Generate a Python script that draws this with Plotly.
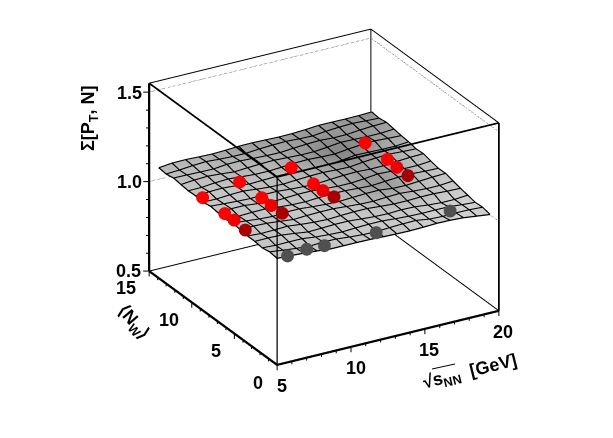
import plotly.graph_objects as go

# ---------------------------------------------------------------------------
# Data
# ---------------------------------------------------------------------------
X_MIN, X_MAX = 5, 20
N_MIN, N_MAX = 0, 15
Z_MIN, Z_MAX = 0.5, 1.55

surf_x = [5.0, 5.9, 6.8, 7.7, 8.6, 9.5, 10.4, 11.3, 12.2, 13.1, 14.0, 14.9, 15.8, 16.7, 17.6, 18.5, 19.4]
surf_n = [0.0, 0.866, 1.733, 2.6, 3.465, 4.33, 5.2, 6.06, 6.93, 7.8, 8.66, 9.53, 10.4, 11.26, 12.13, 13.0, 13.86]
surf_z = [
    [1.093, 1.090, 1.086, 1.080, 1.073, 1.073, 1.073, 1.072, 1.069, 1.067, 1.066, 1.068, 1.071, 1.070, 1.066, 1.057, 1.048],
    [1.099, 1.090, 1.082, 1.076, 1.081, 1.080, 1.073, 1.068, 1.066, 1.071, 1.074, 1.075, 1.064, 1.061, 1.063, 1.062, 1.058],
    [1.091, 1.087, 1.088, 1.088, 1.079, 1.074, 1.071, 1.075, 1.078, 1.078, 1.072, 1.068, 1.066, 1.067, 1.066, 1.060, 1.055],
    [1.097, 1.098, 1.096, 1.087, 1.077, 1.080, 1.083, 1.083, 1.077, 1.072, 1.070, 1.074, 1.072, 1.064, 1.059, 1.059, 1.065],
    [1.097, 1.092, 1.094, 1.097, 1.089, 1.083, 1.080, 1.084, 1.087, 1.087, 1.081, 1.076, 1.076, 1.079, 1.079, 1.075, 1.073],
    [1.103, 1.104, 1.101, 1.094, 1.086, 1.090, 1.092, 1.092, 1.086, 1.081, 1.079, 1.084, 1.087, 1.081, 1.077, 1.077, 1.084],
    [1.109, 1.102, 1.095, 1.091, 1.097, 1.097, 1.091, 1.086, 1.084, 1.088, 1.092, 1.093, 1.084, 1.083, 1.088, 1.093, 1.096],
    [1.101, 1.099, 1.102, 1.103, 1.095, 1.090, 1.088, 1.093, 1.096, 1.096, 1.091, 1.088, 1.094, 1.099, 1.100, 1.096, 1.094],
    [1.106, 1.110, 1.110, 1.102, 1.092, 1.096, 1.100, 1.100, 1.095, 1.090, 1.090, 1.096, 1.105, 1.101, 1.098, 1.098, 1.104],
    [1.112, 1.107, 1.103, 1.100, 1.104, 1.104, 1.098, 1.094, 1.093, 1.098, 1.103, 1.105, 1.101, 1.102, 1.108, 1.113, 1.115],
    [1.104, 1.104, 1.109, 1.112, 1.104, 1.098, 1.096, 1.101, 1.105, 1.107, 1.103, 1.101, 1.110, 1.116, 1.119, 1.115, 1.112],
    [1.109, 1.114, 1.116, 1.111, 1.102, 1.105, 1.108, 1.109, 1.105, 1.102, 1.102, 1.109, 1.119, 1.117, 1.115, 1.115, 1.121],
    [1.107, 1.108, 1.115, 1.119, 1.113, 1.108, 1.107, 1.112, 1.117, 1.119, 1.115, 1.113, 1.122, 1.129, 1.132, 1.128, 1.125],
    [1.112, 1.119, 1.122, 1.117, 1.110, 1.115, 1.119, 1.121, 1.117, 1.114, 1.114, 1.121, 1.130, 1.128, 1.126, 1.126, 1.132],
    [1.118, 1.117, 1.115, 1.114, 1.122, 1.123, 1.119, 1.116, 1.115, 1.121, 1.126, 1.129, 1.124, 1.125, 1.132, 1.137, 1.139],
    [1.110, 1.114, 1.121, 1.125, 1.120, 1.117, 1.117, 1.123, 1.127, 1.129, 1.125, 1.123, 1.131, 1.136, 1.139, 1.135, 1.132],
    [1.115, 1.123, 1.124, 1.121, 1.119, 1.122, 1.126, 1.127, 1.125, 1.123, 1.124, 1.128, 1.134, 1.134, 1.133, 1.134, 1.137],
]

# grey level of the surface on the same grid
surf_grey = [
    [196, 198, 200, 200, 198, 200, 202, 200, 198, 200, 202, 204, 206, 208, 208, 206, 204],
    [198, 198, 196, 198, 200, 198, 200, 202, 200, 198, 200, 202, 204, 206, 208, 208, 206],
    [196, 198, 200, 198, 198, 200, 198, 200, 202, 200, 200, 198, 204, 206, 206, 208, 208],
    [198, 196, 198, 200, 196, 198, 200, 198, 200, 198, 196, 198, 198, 202, 206, 206, 206],
    [198, 196, 198, 196, 200, 198, 196, 198, 198, 194, 190, 186, 186, 190, 196, 200, 202],
    [196, 198, 196, 198, 198, 198, 198, 196, 194, 188, 182, 176, 176, 184, 192, 198, 200],
    [198, 196, 198, 196, 196, 198, 196, 194, 190, 182, 172, 162, 160, 172, 186, 194, 198],
    [196, 198, 196, 198, 198, 196, 194, 192, 188, 180, 166, 154, 154, 166, 180, 190, 196],
    [198, 196, 198, 196, 196, 194, 192, 190, 186, 178, 168, 158, 156, 166, 178, 188, 194],
    [196, 198, 196, 198, 194, 192, 190, 188, 184, 176, 168, 160, 160, 166, 176, 186, 192],
    [198, 196, 198, 196, 192, 190, 190, 188, 182, 174, 164, 156, 154, 162, 172, 182, 188],
    [196, 198, 196, 194, 192, 190, 190, 186, 180, 170, 158, 146, 144, 154, 166, 176, 184],
    [196, 194, 192, 190, 188, 186, 186, 180, 172, 160, 146, 134, 134, 144, 154, 164, 172],
    [194, 192, 190, 188, 184, 184, 182, 176, 170, 160, 148, 138, 138, 146, 152, 160, 166],
    [192, 190, 188, 186, 180, 178, 176, 172, 168, 160, 152, 144, 146, 150, 154, 156, 160],
    [190, 188, 186, 184, 176, 172, 168, 166, 166, 160, 156, 152, 152, 152, 152, 152, 154],
    [186, 184, 182, 180, 170, 166, 162, 160, 162, 160, 158, 156, 154, 152, 150, 148, 148],
]

energy = [6.3, 8.8, 12.3, 17.3]
energy_low = [6.3, 7.6, 8.8, 12.3, 17.3]

grey_n = [1.05, 1.05, 1.05, 1.05, 1.05]
grey_z = [1.047, 1.058, 1.054, 1.056, 1.076]
dark_n = [6.0, 6.0, 6.0, 6.0]
dark_z = [1.019, 1.062, 1.083, 1.101]
mid_n = [7.3, 7.3, 7.3, 7.3]
mid_z = [1.029, 1.060, 1.073, 1.102]
red_n = [8.4, 8.4, 8.4, 8.4]
red_z = [1.027, 1.065, 1.072, 1.108]
top_n = [11.0, 11.0, 11.0, 11.0]
top_z = [1.025, 1.062, 1.072, 1.109]

x_major = [5, 10, 15, 20]
x_minor = [6, 7, 8, 9, 11, 12, 13, 14, 16, 17, 18, 19]
n_major = [0, 5, 10, 15]
n_minor = [1, 2, 3, 4, 6, 7, 8, 9, 11, 12, 13, 14]
z_major = [0.5, 1.0, 1.5]
z_minor = [0.6, 0.7, 0.8, 0.9, 1.1, 1.2, 1.3, 1.4]

# ---------------------------------------------------------------------------
# Scene
# ---------------------------------------------------------------------------
W, H = 613, 438
PAGE_MARGIN = 8  # the browser's body margin pushes everything by this much
FONT = "Liberation Sans"
EYE = 2.0
ZOOM = 1.384  # orthographic size follows the aspect ratio, not the eye distance
MESH_LIFT = 0.002  # keeps the mesh lines just above the surface
eye = dict(x=-0.453 * EYE, y=-0.785 * EYE, z=0.423 * EYE)

hidden = dict(visible=False, showgrid=False, zeroline=False, showticklabels=False)
scene = dict(
    domain=dict(x=[27 / W, 605 / W], y=[1 - 374 / H, 1 - 4 / H]),
    xaxis=dict(range=[4, 21], **hidden),
    yaxis=dict(range=[-1, 16], **hidden),
    zaxis=dict(range=[0.45, 1.6], **hidden),
    aspectmode="manual",
    aspectratio=dict(x=ZOOM * 17 / 15, y=ZOOM * 17 / 15, z=ZOOM * 0.81 * 1.15 / 1.05),
    camera=dict(eye=eye, up=dict(x=0, y=0, z=1), center=dict(x=0, y=0, z=0), projection=dict(type="orthographic")),
    bgcolor="rgba(0,0,0,0)",
    dragmode=False,
)

fig = go.Figure()

fig.add_trace(go.Surface(
    x=surf_x, y=surf_n, z=surf_z,
    surfacecolor=surf_grey,
    cmin=0, cmax=255,
    colorscale=[[0, "#000000"], [1, "#ffffff"]],
    showscale=False,
    lighting=dict(ambient=1, diffuse=0, specular=0, roughness=1, fresnel=0),
    hoverinfo="skip",
))


def line(xs, ys, zs, width=1, color="black", dash="solid", target="scene"):
    fig.add_trace(go.Scatter3d(
        x=xs, y=ys, z=zs, mode="lines", scene=target,
        line=dict(color=color, width=width, dash=dash),
        hoverinfo="skip", showlegend=False,
    ))


# mesh lines on the surface (contour lines stay one pixel thin in webgl)
for j, n in enumerate(surf_n):
    line(surf_x, [n] * len(surf_x), [v + MESH_LIFT for v in surf_z[j]], 2.5)
for i, x in enumerate(surf_x):
    line([x] * len(surf_n), surf_n, [row[i] + MESH_LIFT for row in surf_z], 2.5)

# box edges
line([X_MIN, X_MIN], [N_MAX, N_MAX], [Z_MIN, Z_MAX], 4.5)
line([X_MIN, X_MIN], [N_MIN, N_MIN], [Z_MIN, Z_MAX], 2.5)
line([X_MAX, X_MAX], [N_MIN, N_MIN], [Z_MIN, Z_MAX], 3.5)
line([X_MAX, X_MAX], [N_MAX, N_MAX], [Z_MIN, Z_MAX], 2)
line([X_MIN, X_MIN], [N_MIN, N_MAX], [Z_MAX, Z_MAX], 3.5)
line([X_MIN, X_MAX], [N_MIN, N_MIN], [Z_MAX, Z_MAX], 3.5)
line([X_MIN, X_MAX], [N_MAX, N_MAX], [Z_MAX, Z_MAX], 2)
line([X_MAX, X_MAX], [N_MIN, N_MAX], [Z_MAX, Z_MAX], 2)
line([X_MIN, X_MIN], [N_MIN, N_MAX], [Z_MIN, Z_MIN], 4.5)
line([X_MIN, X_MAX], [N_MIN, N_MIN], [Z_MIN, Z_MIN], 4.5)
line([X_MIN, X_MAX], [N_MAX, N_MAX], [Z_MIN, Z_MIN], 2)
line([X_MAX, X_MAX], [N_MIN, N_MAX], [Z_MIN, Z_MIN], 2)

# dotted grid on the back walls
for zg in [1.0, 1.5]:
    line([X_MIN, X_MAX], [N_MAX, N_MAX], [zg, zg], 1.5, "#333333", "dot")
    line([X_MAX, X_MAX], [N_MIN, N_MAX], [zg, zg], 1.5, "#333333", "dot")

# ticks
for v in x_major:
    line([v, v], [N_MIN, N_MIN], [Z_MIN, Z_MIN - 0.03], 2)
for v in x_minor:
    line([v, v], [N_MIN, N_MIN], [Z_MIN, Z_MIN - 0.016], 2)
for v in n_major:
    line([X_MIN, X_MIN], [v, v], [Z_MIN, Z_MIN - 0.03], 2)
for v in n_minor:
    line([X_MIN, X_MIN], [v, v], [Z_MIN, Z_MIN - 0.016], 2)
for v in z_major:
    line([X_MIN, X_MIN - 0.3], [N_MAX, N_MAX + 0.17], [v, v], 2)
for v in z_minor:
    line([X_MIN, X_MIN - 0.16], [N_MAX, N_MAX + 0.09], [v, v], 2)


# points go in a second scene on top, the reference paints them over the surface
def points(xs, ns, zs, color):
    fig.add_trace(go.Scatter3d(
        x=xs, y=ns, z=zs, mode="markers", scene="scene2",
        marker=dict(size=7.5, color=color, line=dict(width=0)),
        hoverinfo="skip", showlegend=False,
    ))


points(energy_low, grey_n, grey_z, "#505050")
points(energy, dark_n, dark_z, "#a80000")
points(energy, mid_n, mid_z, "#ee0000")
points(energy, red_n, red_z, "#ff0000")
points(energy, top_n, top_z, "#ff0000")

# ---------------------------------------------------------------------------
# Text
# ---------------------------------------------------------------------------
annotations = []


def page_x(px):
    return (px - PAGE_MARGIN) / W


def page_y(py):
    return 1 - (py - PAGE_MARGIN) / H


def label(text, px, py, size=18, angle=0):
    annotations.append(dict(
        text=text, x=page_x(px), y=page_y(py), xref="paper", yref="paper",
        showarrow=False, textangle=angle, xanchor="center", yanchor="middle",
        font=dict(family=FONT, size=size, color="black"),
    ))


for t, px, py in [("<b>1.5</b>", 129, 93), ("<b>1.0</b>", 129, 182), ("<b>0.5</b>", 128, 271)]:
    label(t, px, py)
for t, px, py in [("<b>15</b>", 126, 288), ("<b>10</b>", 169, 320), ("<b>5</b>", 216, 351), ("<b>0</b>", 258, 383)]:
    label(t, px, py)
for t, px, py in [("<b>5</b>", 282, 386), ("<b>10</b>", 356, 368), ("<b>15</b>", 429, 350), ("<b>20</b>", 503, 332)]:
    label(t, px, py)
label("<b>Σ[P<sub>T</sub>, N]</b>", 89, 118, 18, -90)
label("<b>√s<sub>NN</sub>  [GeV]</b>", 470, 372, 18, -14)
label("<b>⟨N<sub>W</sub>⟩</b>", 133, 322, 18, 50)

fig.update_layout(
    width=W, height=H,
    margin=dict(l=0, r=0, t=0, b=0),
    paper_bgcolor="white",
    showlegend=False,
    scene=scene,
    scene2=scene,
    annotations=annotations,
    shapes=[dict(type="line", xref="paper", yref="paper",
                 x0=page_x(432), y0=page_y(369), x1=page_x(455), y1=page_y(364),
                 line=dict(color="black", width=1))],
)

fig.write_html("out.html")
